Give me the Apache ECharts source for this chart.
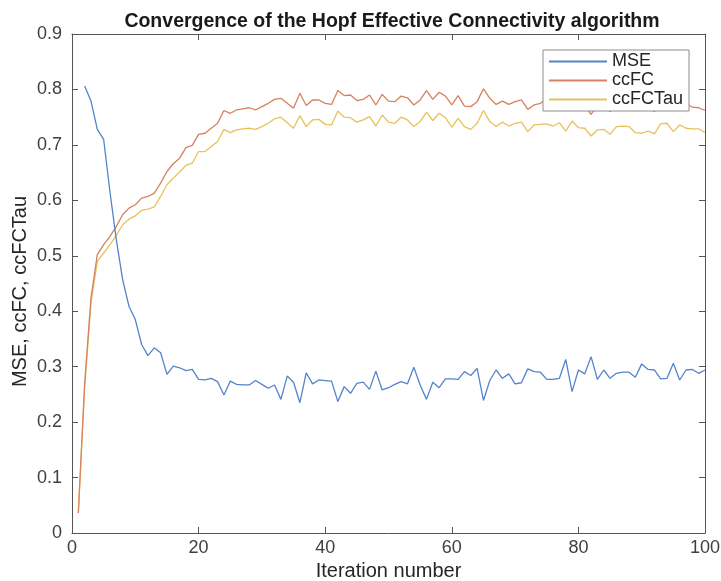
<!DOCTYPE html>
<html>
<head>
<meta charset="utf-8">
<script src="https://cdn.jsdelivr.net/npm/echarts@6/dist/echarts.min.js"></script>
<style>html,body{margin:0;padding:0;background:#fff}#c{width:721px;height:581px}</style>
</head>
<body>
<div id="c"></div>
<script>
var titleText = 'Convergence of the Hopf Effective Connectivity algorithm';
var xName = 'Iteration number';
var yName = 'MSE, ccFC, ccFCTau';
var seriesNames = ['MSE', 'ccFC', 'ccFCTau'];

// MSE starts at iteration 2
var mseStart = 2;
var mse = [0.806,0.779,0.728,0.710,0.615,0.529,0.457,0.409,0.385,0.340,0.320,0.334,0.325,0.286,0.301,0.298,0.293,0.295,0.277,
0.276,0.279,0.273,0.249,0.274,0.268,0.267,0.267,0.275,0.268,0.261,0.267,0.241,0.283,0.272,0.235,0.289,0.269,0.276,0.275,
0.274,0.237,0.264,0.252,0.270,0.272,0.259,0.292,0.258,0.262,0.268,0.273,0.269,0.299,0.267,0.241,0.272,0.262,0.278,0.278,
0.277,0.291,0.284,0.297,0.239,0.275,0.294,0.279,0.287,0.269,0.271,0.296,0.291,0.290,0.277,0.277,0.279,0.313,0.255,0.294,
0.287,0.318,0.277,0.294,0.279,0.288,0.290,0.290,0.281,0.305,0.295,0.294,0.278,0.279,0.306,0.276,0.294,0.295,0.288,0.294];

// ccFC and ccFCTau start at iteration 1
var ccStart = 1;
var ccFC = [0.036,0.270,0.424,0.502,0.520,0.535,0.553,0.574,0.586,0.592,0.604,0.607,0.613,0.631,0.652,0.666,0.676,0.695,0.699,0.719,
0.721,0.730,0.739,0.762,0.757,0.763,0.765,0.767,0.763,0.769,0.775,0.782,0.784,0.775,0.766,0.793,0.771,0.781,0.781,0.775,
0.773,0.798,0.789,0.790,0.780,0.782,0.790,0.772,0.791,0.779,0.778,0.788,0.785,0.772,0.781,0.798,0.782,0.795,0.788,0.772,
0.789,0.770,0.769,0.778,0.801,0.784,0.773,0.779,0.773,0.778,0.781,0.764,0.772,0.775,0.783,0.779,0.785,0.770,0.788,0.776,
0.770,0.755,0.772,0.773,0.760,0.778,0.779,0.778,0.762,0.763,0.770,0.760,0.783,0.784,0.769,0.781,0.775,0.768,0.767,0.762];
var ccFCTau = [0.036,0.262,0.415,0.490,0.505,0.520,0.537,0.556,0.566,0.572,0.582,0.584,0.588,0.607,0.628,0.640,0.651,0.663,0.667,0.688,
0.688,0.697,0.706,0.728,0.722,0.727,0.729,0.730,0.728,0.733,0.739,0.747,0.750,0.740,0.730,0.753,0.733,0.745,0.746,0.737,
0.736,0.761,0.750,0.749,0.741,0.745,0.751,0.734,0.754,0.741,0.739,0.750,0.745,0.733,0.742,0.759,0.744,0.757,0.749,0.732,
0.748,0.733,0.728,0.739,0.762,0.742,0.733,0.741,0.734,0.739,0.741,0.724,0.736,0.737,0.738,0.734,0.740,0.725,0.743,0.731,
0.730,0.716,0.727,0.728,0.719,0.733,0.734,0.733,0.722,0.721,0.725,0.720,0.738,0.739,0.724,0.736,0.730,0.729,0.729,0.722];

var colors = ['#5384cb', '#d7815f', '#e9c15a'];

function pairs(arr, start) {
  return arr.map(function (v, k) { return [start + k, v]; });
}

var FONT = '"Liberation Sans", Helvetica, Arial, sans-serif';
var axisColor = '#555555';
var labelColor = '#404040';

function frameAxis(extra) {
  var base = {
    axisLine: {show: true, onZero: false, lineStyle: {color: axisColor, width: 1}},
    axisTick: {show: true, inside: true, length: 6, lineStyle: {color: axisColor}},
    splitLine: {show: false}
  };
  for (var k in extra) base[k] = extra[k];
  return base;
}

var chart = echarts.init(document.getElementById('c'), null, {renderer: 'canvas'});
chart.setOption({
  animation: false,
  backgroundColor: '#ffffff',
  title: {
    text: titleText,
    left: 387, textAlign: 'center', top: 7,
    textStyle: {fontFamily: FONT, fontSize: 19.5, fontWeight: 'bold', color: '#1a1a1a'}
  },
  legend: {
    orient: 'vertical',
    left: 543, top: 50,
    padding: [2, 6, 2, 6],
    itemGap: 0,
    itemWidth: 58,
    itemHeight: 2,
    icon: 'rect',
    backgroundColor: '#ffffff',
    borderColor: '#8c8c8c',
    borderWidth: 1,
    textStyle: {fontFamily: FONT, fontSize: 18, color: '#262626', lineHeight: 19},
    data: seriesNames
  },
  grid: {left: 72, right: 16, top: 34, bottom: 48, containLabel: false, outerBoundsMode: 'none'},
  xAxis: [frameAxis({
    type: 'value', min: 0, max: 100, interval: 20, position: 'bottom',
    name: xName, nameLocation: 'middle', nameGap: 27,
    nameTextStyle: {fontFamily: FONT, fontSize: 20, color: '#262626'},
    axisLabel: {fontFamily: FONT, fontSize: 18, color: labelColor, margin: 6}
  }), frameAxis({
    type: 'value', min: 0, max: 100, interval: 20, position: 'top',
    axisLabel: {show: false}
  })],
  yAxis: [frameAxis({
    type: 'value', min: 0, max: 0.9, interval: 0.1, position: 'left',
    name: yName, nameLocation: 'middle', nameGap: 42, nameMoveOverlap: false,
    nameTextStyle: {fontFamily: FONT, fontSize: 20, color: '#262626', padding: [0, 16, 0, 0]},
    axisLabel: {fontFamily: FONT, fontSize: 18, color: labelColor, margin: 10,
      formatter: function (v) { return v === 0 ? '0' : v.toFixed(1); }}
  }), frameAxis({
    type: 'value', min: 0, max: 0.9, interval: 0.1, position: 'right',
    axisLabel: {show: false}
  })],
  series: [{
    name: seriesNames[0], type: 'line', data: pairs(mse, mseStart),
    showSymbol: false, symbol: 'none', color: colors[0],
    lineStyle: {color: colors[0], width: 1.3}, z: 3
  }, {
    name: seriesNames[1], type: 'line', data: pairs(ccFC, ccStart),
    showSymbol: false, symbol: 'none', color: colors[1],
    lineStyle: {color: colors[1], width: 1.3}, z: 2
  }, {
    name: seriesNames[2], type: 'line', data: pairs(ccFCTau, ccStart),
    showSymbol: false, symbol: 'none', color: colors[2],
    lineStyle: {color: colors[2], width: 1.3}, z: 1
  }]
});
</script>
</body>
</html>
